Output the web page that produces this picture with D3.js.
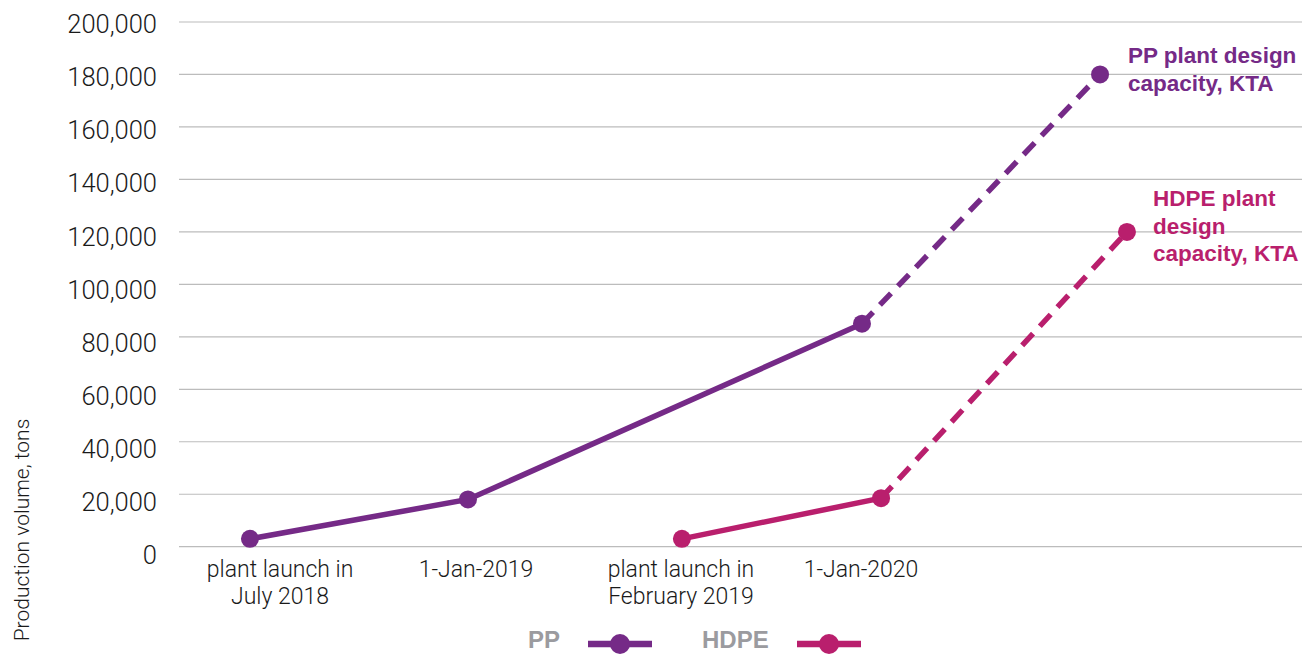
<!DOCTYPE html>
<html>
<head>
<meta charset="utf-8">
<script src="https://cdn.jsdelivr.net/npm/d3@7"></script>
<style>
    body { margin: 0; background: #fff; }
    svg { display: block; font-family: Roboto, "Liberation Sans", sans-serif; }
</style>
</head>
<body>
<div id="chart"></div>
<script>
// Data (x in slot units along the category axis)
const yTicks = [0, 20000, 40000, 60000, 80000, 100000, 120000, 140000, 160000, 180000, 200000];

const categoryLabels = [
    ["plant launch in", "July 2018"],
    ["1-Jan-2019"],
    ["plant launch in", "February 2019"],
    ["1-Jan-2020"]
];
const categoryPos = [0.535, 1.583, 2.679, 3.642];

const ppX = [0.374, 1.54, 3.647, 4.92];
const ppValues = [3000, 18000, 85000, 180000];
const hdpeX = [2.684, 3.749, 5.064];
const hdpeValues = [3000, 18500, 120000];

const ppColor = "#752a87";
const hdpeColor = "#b91f6d";

function drawChart() {
    const svgWidth = 1302, svgHeight = 655;

    const svg = d3.select("#chart")
        .append("svg")
        .attr("width", svgWidth)
        .attr("height", svgHeight);

    const x = d3.scaleLinear().domain([0, 6]).range([180, 1302]);
    const y = d3.scaleLinear().domain([0, 200000]).range([546.7, 22]);
    // tick labels sit on a slightly taller scale than the gridlines in the reference
    const yLabel = d3.scaleLinear().domain([0, 200000]).range([555, 24]);

    // gridlines
    svg.append("g")
        .selectAll("line")
        .data(yTicks)
        .enter()
        .append("line")
        .attr("x1", 179)
        .attr("x2", svgWidth)
        .attr("y1", d => y(d))
        .attr("y2", d => y(d))
        .attr("stroke", "#bcbcbc")
        .attr("stroke-width", 1.2);

    // y tick labels
    svg.append("g")
        .selectAll("text")
        .data(yTicks)
        .enter()
        .append("text")
        .attr("x", 157)
        .attr("y", d => yLabel(d))
        .attr("dy", "0.36em")
        .attr("text-anchor", "end")
        .style("font-size", "25.5px")
        .style("font-weight", 300)
        .attr("fill", "#1a1a1a")
        .text(d => d3.format(",")(d));

    // y axis title
    svg.append("text")
        .attr("transform", "translate(29, 530) rotate(-90)")
        .attr("text-anchor", "middle")
        .style("font-size", "21px")
        .style("font-weight", 300)
        .attr("fill", "#1a1a1a")
        .text("Production volume, tons");

    // category labels
    const cat = svg.append("g")
        .selectAll("text")
        .data(categoryLabels)
        .enter()
        .append("text")
        .attr("text-anchor", "middle")
        .style("font-size", "23px")
        .style("font-weight", 300)
        .attr("fill", "#1a1a1a");

    cat.selectAll("tspan")
        .data((d, i) => d.map(line => ({ line, i })))
        .enter()
        .append("tspan")
        .attr("x", d => x(categoryPos[d.i]))
        .attr("y", (d, j) => 577 + j * 26.6)
        .text(d => d.line);

    // series: solid part for actuals, dashed to design capacity
    function drawSeries(xs, values, color) {
        const pts = xs.map((v, i) => [x(v), y(values[i])]);
        const line = d3.line();
        const n = pts.length;

        svg.append("path")
            .attr("d", line(pts.slice(0, n - 1)))
            .attr("fill", "none")
            .attr("stroke", color)
            .attr("stroke-width", 5.5);

        svg.append("path")
            .attr("d", line(pts.slice(n - 2)))
            .attr("fill", "none")
            .attr("stroke", color)
            .attr("stroke-width", 5.5)
            .attr("stroke-dasharray", "16,10");

        svg.append("g")
            .selectAll("circle")
            .data(pts)
            .enter()
            .append("circle")
            .attr("cx", d => d[0])
            .attr("cy", d => d[1])
            .attr("r", 9)
            .attr("fill", color);
    }

    drawSeries(ppX, ppValues, ppColor);
    drawSeries(hdpeX, hdpeValues, hdpeColor);

    // end annotations
    const annotations = [
        { lines: ["PP plant design", "capacity, KTA"], color: ppColor, x: 1128, y: 63 },
        { lines: ["HDPE plant", "design", "capacity, KTA"], color: hdpeColor, x: 1153, y: 206 }
    ];

    annotations.forEach(a => {
        const t = svg.append("text")
            .attr("fill", a.color)
            .style("font-size", "22.5px")
            .style("font-weight", 700)
            .style("font-family", "'Liberation Sans', Arial, sans-serif");
        a.lines.forEach((l, i) => {
            t.append("tspan").attr("x", a.x).attr("y", a.y + i * 27.6).text(l);
        });
    });

    // legend
    const legendItems = [
        { name: "PP", color: ppColor, tx: 528, lx: 588 },
        { name: "HDPE", color: hdpeColor, tx: 702, lx: 797 }
    ];

    const legend = svg.append("g")
        .selectAll("g")
        .data(legendItems)
        .enter()
        .append("g");

    legend.append("text")
        .attr("x", d => d.tx)
        .attr("y", 647.5)
        .style("font-size", "24px")
        .style("font-weight", 700)
        .style("font-family", "'Liberation Sans', Arial, sans-serif")
        .attr("fill", "#9b9b9f")
        .text(d => d.name);

    legend.append("line")
        .attr("x1", d => d.lx)
        .attr("x2", d => d.lx + 64)
        .attr("y1", 644)
        .attr("y2", 644)
        .attr("stroke", d => d.color)
        .attr("stroke-width", 6.5);

    legend.append("circle")
        .attr("cx", d => d.lx + 32)
        .attr("cy", 644)
        .attr("r", 10)
        .attr("fill", d => d.color);
}

document.addEventListener("DOMContentLoaded", drawChart);
</script>
</body>
</html>
